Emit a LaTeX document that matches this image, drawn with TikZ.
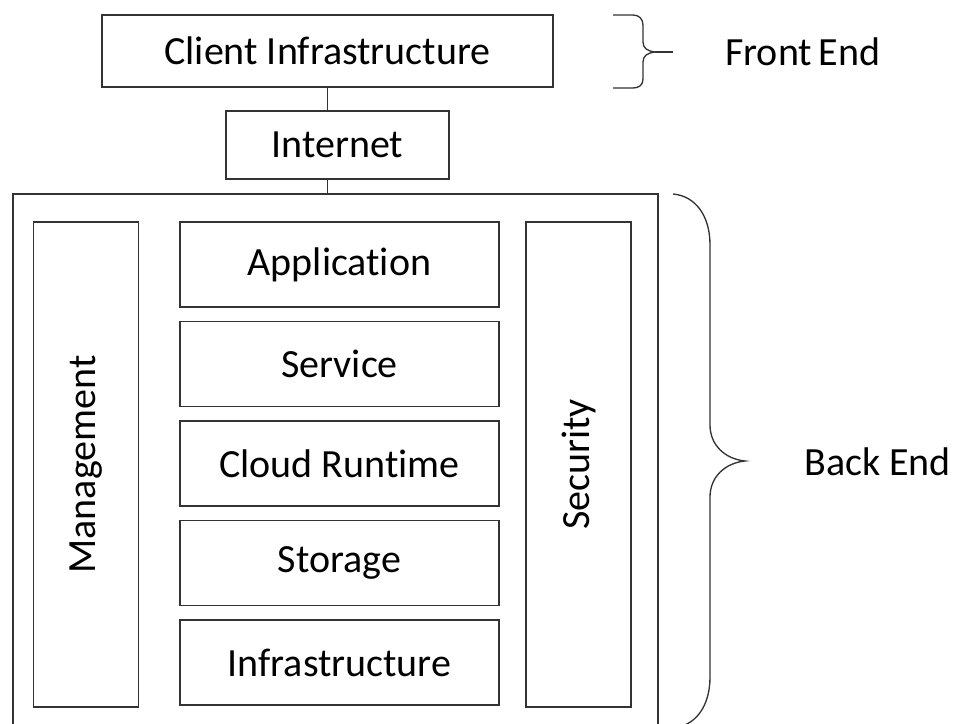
\documentclass[tikz,border=0pt]{standalone}
\usepackage{fontspec}
\setmainfont{Carlito}[Ligatures={NoCommon}]

\tikzset{
  box/.style={draw=black!80, line width=1pt, inner sep=0pt, font=\fontsize{30}{34}\selectfont},
  layer/.style={box, minimum width=239.25pt, minimum height=63.75pt},
  sidebar/.style={box, rotate=90, minimum width=363.75pt, minimum height=78.75pt},
  bracelabel/.style={inner sep=0pt, anchor=west, font=\fontsize{30}{34}\selectfont},
  brace/.style={draw=black!80, line width=1pt}
}

\begin{document}
\begin{tikzpicture}[x=0.75pt,y=0.75pt,yscale=-1,xscale=1]
        \useasboundingbox (0,0) rectangle (953,724);
        % front end
        \node [box, minimum width=338.25pt, minimum height=54pt] (client) at (327.5,51) {Client Infrastructure};
        \node [box, minimum width=167.25pt, minimum height=51pt] (internet) at (337.5,145) {Internet};
        % back end
        \node [draw=black!80, line width=1pt, minimum width=483.75pt, minimum height=400.5pt] (backend) at (335.5,461) {};
        \node [sidebar] (management) at (86,464.5) {Management};
        \node [sidebar] (security) at (578.5,464.5) {Security};
        \node [layer] (application) at (339.5,264.5) {Application};
        \node [layer] (service) at (339.5,364) {Service};
        \node [layer] (runtime) at (339.5,463.5) {Cloud Runtime};
        \node [layer] (storage) at (339.5,563) {Storage};
        \node [layer] (infra) at (339.5,662.5) {Infrastructure};
        % links
        \draw [brace] (client.south) -- (client.south |- internet.north);
        \draw [brace] (client.south |- internet.south) -- (client.south |- backend.north);
        % braces
        \coordinate (fetip) at (655,52);
        \coordinate (betip) at (745,461);
        \draw [brace] (613,15) -- (633,15) .. controls (639,15) and (643,19) .. (643,25) -- (643,42) .. controls (643,48) and (647,51) .. (fetip) .. controls (647,53) and (643,56) .. (643,62) -- (643,79) .. controls (643,85) and (639,88) .. (633,88) -- (613,88);
        \draw [brace] (fetip) -- (673,52);
        \draw [brace] (673,194) .. controls (695,196) and (710,215) .. (710,245) -- (710,425) .. controls (710,445) and (725,459) .. (betip) .. controls (725,463) and (710,477) .. (710,497) -- (710,677) .. controls (710,707) and (695,726) .. (673,728);
        \node [bracelabel] (frontend) at (725,52) {Front\,End};
        \node [bracelabel] (backendlabel) at (804,462) {Back End};
\end{tikzpicture}
\end{document}
